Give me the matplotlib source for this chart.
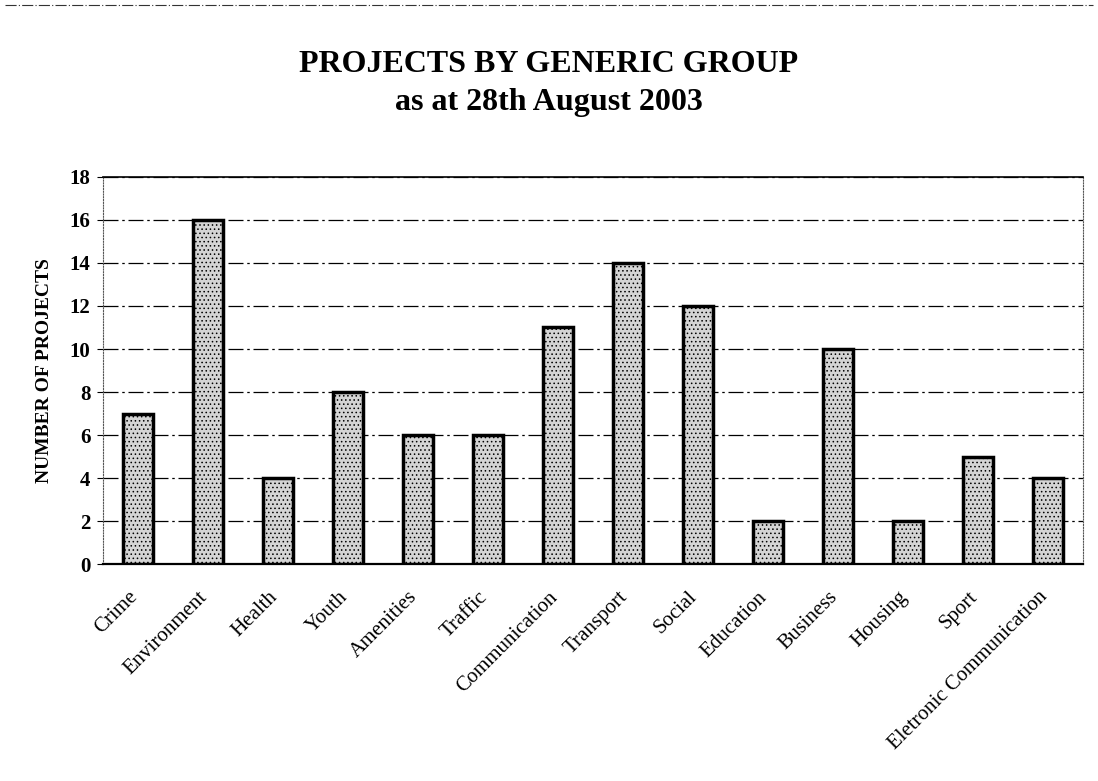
import matplotlib
matplotlib.use("Agg")
import matplotlib.pyplot as plt
import matplotlib.transforms as mtransforms
import numpy as np

categories = ["Crime", "Environment", "Health", "Youth", "Amenities", "Traffic",
              "Communication", "Transport", "Social", "Education", "Business",
              "Housing", "Sport", "Eletronic Communication"]
projects = [7, 16, 4, 8, 6, 6, 11, 14, 12, 2, 10, 2, 5, 4]
y_ticks = [0, 2, 4, 6, 8, 10, 12, 14, 16, 18]

plt.rcParams['font.family'] = ['Liberation Serif', 'DejaVu Serif']
plt.rcParams['hatch.color'] = '#8a8a8a'
plt.rcParams['hatch.linewidth'] = 0.6

fig = plt.figure(figsize=(10.98, 7.81), dpi=100)
ax = fig.add_axes([0.0938, 0.2778, 0.8925, 0.4956])

x = np.arange(len(categories))
ax.bar(x, projects, width=0.43, color='#d4d4d4', edgecolor='black',
       linewidth=2.5, hatch='....', zorder=3)

ax.set_xlim(-0.5, len(categories) - 0.5)
ax.set_ylim(0, 18)
ax.set_yticks(y_ticks)
ax.set_yticklabels([str(v) for v in y_ticks], fontsize=15, fontweight='bold')
ax.set_xticks(x)
ax.set_xticklabels(categories, rotation=45, ha='right', rotation_mode='anchor',
                   fontsize=15)
ax.tick_params(axis='x', length=0, pad=17)
ax.tick_params(axis='y', length=4, width=0.8, pad=5)

# nudge the slanted labels a little to the left, as in the original
shift = mtransforms.ScaledTranslation(-10 / 100, 0, fig.dpi_scale_trans)
for lab in ax.get_xticklabels():
    lab.set_transform(lab.get_transform() + shift)

ax.grid(axis='y', color='black', linestyle=(0, (12, 3, 2, 3)), linewidth=0.9, zorder=0)
ax.set_ylabel("NUMBER OF PROJECTS", fontsize=14, fontweight='bold', labelpad=12)

ax.spines['top'].set_linewidth(1.2)
ax.spines['bottom'].set_linewidth(1.6)
ax.spines['left'].set_linestyle((0, (1, 1.5)))
ax.spines['left'].set_linewidth(0.8)
ax.spines['left'].set_color('#555555')
ax.spines['right'].set_linestyle((0, (1, 1.5)))
ax.spines['right'].set_linewidth(0.8)
ax.spines['right'].set_color('#555555')

fig.text(0.5, 0.918, "PROJECTS BY GENERIC GROUP", ha='center', va='center',
         fontsize=23, fontweight='bold')
fig.text(0.5, 0.869, "as at 28th August 2003", ha='center', va='center',
         fontsize=23, fontweight='bold')

# scan border at top of the page
fig.add_artist(plt.Line2D([0.005, 0.995], [0.993, 0.993], color='#333333',
                          linewidth=0.8, linestyle=(0, (10, 2, 1, 2))))

fig.savefig("out.png", dpi=100)
